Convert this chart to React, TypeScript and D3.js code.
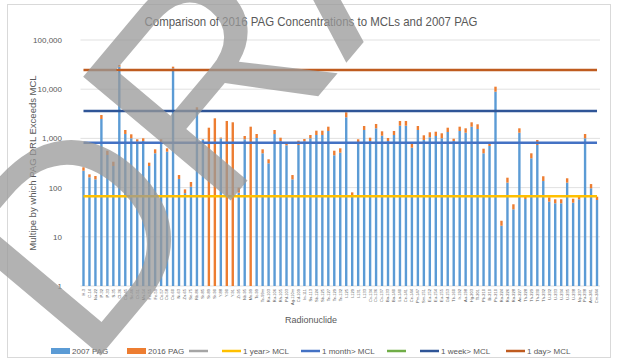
import * as d3 from 'd3';

// radionuclides along the x axis
const nuclides = [
  'H-3', 'C-14', 'Na-22', 'P-32', 'P-33', 'S-35', 'Cl-36', 'Ca-45', 'Sc-46', 'Cr-51',
  'Mn-54', 'Fe-55', 'Fe-59', 'Co-57', 'Co-58', 'Co-60', 'Ni-63', 'Zn-65', 'Se-75', 'Rb-86',
  'Sr-85', 'Sr-89', 'Sr-90', 'Y-88', 'Y-90', 'Y-91', 'Zr-95', 'Nb-95', 'Mo-99', 'Tc-99',
  'Tc-99m', 'Ru-103', 'Ru-106', 'Rh-105', 'Pd-103', 'Ag-110m', 'Cd-109', 'In-111', 'Sn-113', 'Sb-124',
  'Sb-125', 'Te-127', 'Te-129', 'Te-132', 'I-125', 'I-129', 'I-131', 'I-133', 'Cs-134', 'Cs-136',
  'Cs-137', 'Ba-133', 'Ba-140', 'La-140', 'Ce-141', 'Ce-144', 'Pm-147', 'Sm-151', 'Eu-152', 'Eu-154',
  'Eu-155', 'Gd-153', 'Tb-160', 'Ir-192', 'Au-198', 'Hg-203', 'Tl-201', 'Pb-210', 'Bi-210', 'Po-210',
  'Ra-224', 'Ra-226', 'Ra-228', 'Ac-227', 'Th-228', 'Th-229', 'Th-230', 'Th-232', 'U-232', 'U-233',
  'U-234', 'U-235', 'U-238', 'Np-237', 'Pu-238', 'Am-241', 'Cm-244'
];

// 2007 PAG multiple (bottom of the stack)
const pag2007 = [
  220, 162, 147, 2480, 460, 275, 28700, 1230, 1005, 857,
  885, 275, 498, 818, 537, 26600, 150, 77, 104, 3660,
  928, 0, 0, 1000, 0, 0, 79, 959, 0, 1019,
  498, 312, 1228, 885, 724, 147, 734, 873, 1005, 1173,
  1173, 1414, 454, 512, 2685, 68, 845, 1482, 885, 1604,
  1135, 885, 1173, 1812, 1812, 647, 1482, 928, 1052, 1119,
  1005, 1349, 885, 1414, 1306, 1730, 1553, 498, 701, 8900,
  16.8, 126, 36.2, 1306, 58.7, 394, 734, 136, 51.7, 48,
  48, 126, 49.3, 57.9, 1005, 96.8, 56
];

// 2016 PAG (stacked on top)
const pag2016 = [
  39, 24, 25, 510, 102, 61, 2300, 252, 206, 102,
  120, 46, 102, 141, 92, 2100, 30, 15, 26, 630,
  31, 1650, 2560, 40, 2260, 2125, 21, 160, 1730, 209,
  102, 64, 254, 148, 94, 33, 164, 99, 168, 262,
  262, 316, 108, 117, 705, 12, 114, 304, 148, 359,
  259, 134, 241, 448, 448, 122, 304, 228, 279, 249,
  265, 301, 101, 316, 298, 395, 382, 120, 94, 2350,
  4.4, 33, 9.6, 298, 6.6, 104, 194, 34, 11.8, 9.9,
  9.9, 28.6, 10.2, 7.4, 223, 21.2, 9.3
];

// MCL reference lines
const mclLines = [
  { name: '1 year> MCL', value: 67, color: '#FFC000' },
  { name: '1 month> MCL', value: 815, color: '#4472C4' },
  { name: '1 week> MCL', value: 3600, color: '#2F5597' },
  { name: '1 day> MCL', value: 24500, color: '#BF5B1F' }
];

const yTicks = [1, 10, 100, 1000, 10000, 100000];

const legendItems = [
  { label: '2007 PAG', color: '#5B9BD5', kind: 'rect', x: 51 },
  { label: '2016 PAG', color: '#ED7D31', kind: 'rect', x: 127 },
  { label: '', color: '#A5A5A5', kind: 'line', x: 189 },
  { label: '1 year> MCL', color: '#FFC000', kind: 'line', x: 222 },
  { label: '1 month> MCL', color: '#4472C4', kind: 'line', x: 301 },
  { label: '', color: '#70AD47', kind: 'line', x: 387 },
  { label: '1 week> MCL', color: '#2F5597', kind: 'line', x: 420 },
  { label: '1 day> MCL', color: '#BF5B1F', kind: 'line', x: 506 }
];

const font = '"Liberation Sans", Arial, sans-serif';
const textColor = '#595959';

export default function App() {
  const width = 620;
  const height = 364;

  const x = d3.scaleBand<string>()
    .domain(nuclides)
    .range([80.5, 600])
    .paddingInner(0.6)
    .paddingOuter(0.3);

  const y = d3.scaleLog()
    .domain([1, 100000])
    .range([286, 40]);

  const fmt = d3.format(',');
  const cx = (n: string) => (x(n) ?? 0) + x.bandwidth() / 2;

  const line = d3.line<string>()
    .x(d => cx(d));

  return (
    <svg width={width} height={height} style={{ position: 'absolute', left: 0, top: 0 }} fontFamily={font}>
      <rect x={0} y={0} width={width} height={height} fill="#fff" />
      <rect x={7.5} y={4.5} width={603} height={353} fill="#fff" stroke="#D9D9D9" />

      {/* title */}
      <text x={311} y={26} textAnchor="middle" fontSize={13.5} fill={textColor} textLength={333} lengthAdjust="spacingAndGlyphs">
        Comparison of 2016 PAG Concentrations to MCLs and 2007 PAG
      </text>

      {/* gridlines + y ticks */}
      {yTicks.map(t => (
        <g key={t}>
          <line x1={80.5} x2={600} y1={y(t)} y2={y(t)} stroke="#D9D9D9" strokeWidth={0.8} />
          <text x={62} y={y(t) + 3} textAnchor="end" fontSize={8} fill={textColor}>{fmt(t)}</text>
        </g>
      ))}

      <text transform={`translate(36,${163}) rotate(-90)`} textAnchor="middle" fontSize={9.5} fill={textColor}>
        Multipe by which PAG DRL Exceeds MCL
      </text>

      {/* stacked bars */}
      {nuclides.map((n, i) => {
        const b = pag2007[i];
        const top = b + pag2016[i];
        const base = Math.max(b, 1);
        return (
          <g key={n}>
            {b > 0 && (
              <rect x={x(n)} y={y(b)} width={x.bandwidth()} height={y(1) - y(b)} fill="#5B9BD5" />
            )}
            <rect x={x(n)} y={y(top)} width={x.bandwidth()} height={y(base) - y(top)} fill="#ED7D31" />
          </g>
        );
      })}

      {/* MCL lines */}
      {mclLines.map(m => (
        <path key={m.name} d={line.y(() => y(m.value))(nuclides) ?? ''} fill="none" stroke={m.color} strokeWidth={2.5} />
      ))}

      {/* category labels */}
      {nuclides.map(n => (
        <text key={n} transform={`translate(${cx(n) + 1.4},289) rotate(-90)`} textAnchor="end" fontSize={4} fill={textColor}>
          {n}
        </text>
      ))}

      <text x={311} y={323} textAnchor="middle" fontSize={9} fill={textColor}>Radionuclide</text>

      {/* legend */}
      {legendItems.map((l, i) => (
        <g key={i}>
          {l.kind === 'rect'
            ? <rect x={l.x} y={348} width={19} height={6} fill={l.color} />
            : <line x1={l.x} x2={l.x + 19} y1={351} y2={351} stroke={l.color} strokeWidth={2.5} />}
          {l.label && (
            <text x={l.x + 21} y={354} fontSize={8} fill={textColor}>{l.label}</text>
          )}
        </g>
      ))}

      {/* draft watermark */}
      <text transform="translate(86,373) rotate(-50)" fontSize={280} fill="#999" opacity={0.75} fontFamily={font}>
        DRAFT
      </text>
    </svg>
  );
}
